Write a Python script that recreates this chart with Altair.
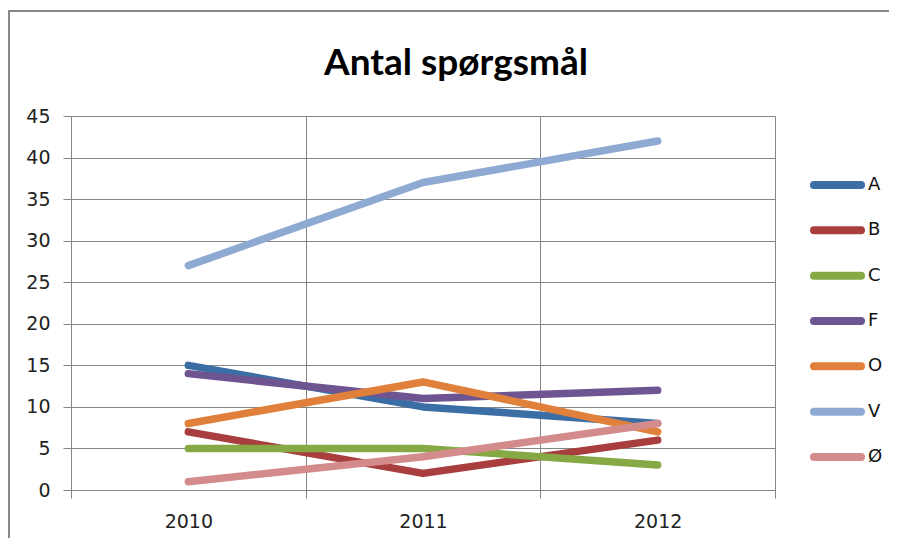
import altair as alt
import pandas as pd

years = ["2010", "2011", "2012"]
series = ["A", "B", "C", "F", "O", "V", "Ø"]
values = {
    "A": [15, 10, 8],
    "B": [7, 2, 6],
    "C": [5, 5, 3],
    "F": [14, 11, 12],
    "O": [8, 13, 7],
    "V": [27, 37, 42],
    "Ø": [1, 4, 8],
}
colors = ["#3c6ea6", "#a83e3d", "#86a845", "#6e5490", "#e0803a", "#8eaad2", "#d38b8c"]
y_ticks = [0, 5, 10, 15, 20, 25, 30, 35, 40, 45]
title_text = "Antal spørgsmål"

rows = []
for s in series:
    for yr, v in zip(years, values[s]):
        rows.append({"series": s, "year": yr, "value": v, "order": series.index(s)})
df = pd.DataFrame(rows)
leg_df = pd.DataFrame({"series": series})

GRID = "#868686"
FONT = "DejaVu Sans"

color_scale = alt.Scale(domain=series, range=colors)

lines = alt.Chart(df).mark_line(strokeWidth=7.5, strokeCap="round", strokeJoin="round").encode(
    x=alt.X("year:N", bandPosition=0.5,
            scale=alt.Scale(type="band", domain=years, paddingInner=0, paddingOuter=0),
            axis=alt.Axis(title=None, grid=True, tickBand="extent", gridColor=GRID, gridWidth=1,
                          domainColor=GRID, tickColor=GRID, tickSize=8, labelAngle=0,
                          labelFont=FONT, labelFontSize=19, labelColor="#222222", labelPadding=14)),
    y=alt.Y("value:Q", scale=alt.Scale(domain=[0, 45], nice=False),
            axis=alt.Axis(title=None, values=y_ticks, grid=True, gridColor=GRID, gridWidth=1,
                          domainColor=GRID, tickColor=GRID, tickSize=8,
                          labelFont=FONT, labelFontSize=19, labelColor="#222222", labelPadding=13)),
    color=alt.Color("series:N", scale=color_scale, legend=None),
    detail="series:N",
    order="order:Q",
)

leg_y = alt.Y("series:N", scale=alt.Scale(type="point", domain=series, range=[69, 341], padding=0), axis=None)

leg_rule = alt.Chart(leg_df).mark_rule(strokeWidth=8, strokeCap="round").encode(
    x=alt.value(743), x2=alt.value(790), y=leg_y,
    color=alt.Color("series:N", scale=color_scale, legend=None),
)
leg_text = alt.Chart(leg_df).mark_text(align="left", baseline="middle", font=FONT, fontSize=18,
                                        color="#111111").encode(
    x=alt.value(797), y=leg_y, text="series:N",
)

title = alt.Chart(pd.DataFrame({"t": [title_text]})).mark_text(
    align="center", baseline="alphabetic", font="Lato", fontSize=37, fontWeight="bold", color="#000000"
).encode(x=alt.value(385), y=alt.value(-41), text="t:N")

border_left = alt.Chart(pd.DataFrame({"a": [0]})).mark_rule(color="#888888", strokeWidth=2).encode(
    x=alt.value(-62), y=alt.value(-106), y2=alt.value(430))
border_top = alt.Chart(pd.DataFrame({"a": [0]})).mark_rule(color="#888888", strokeWidth=2).encode(
    x=alt.value(-63), x2=alt.value(826), y=alt.value(-105))

legend_layer = alt.layer(leg_rule, leg_text)

chart = alt.layer(lines, legend_layer, title, border_left, border_top).resolve_scale(
    y="independent"
).properties(
    width=704, height=374,
    autosize=alt.AutoSizeParams(type="none"),
    padding={"left": 63, "top": 108, "right": 114, "bottom": 48},
    background="white",
).configure_view(stroke=None)

chart.save("out.html", embed_options={"renderer": "svg", "actions": False})
